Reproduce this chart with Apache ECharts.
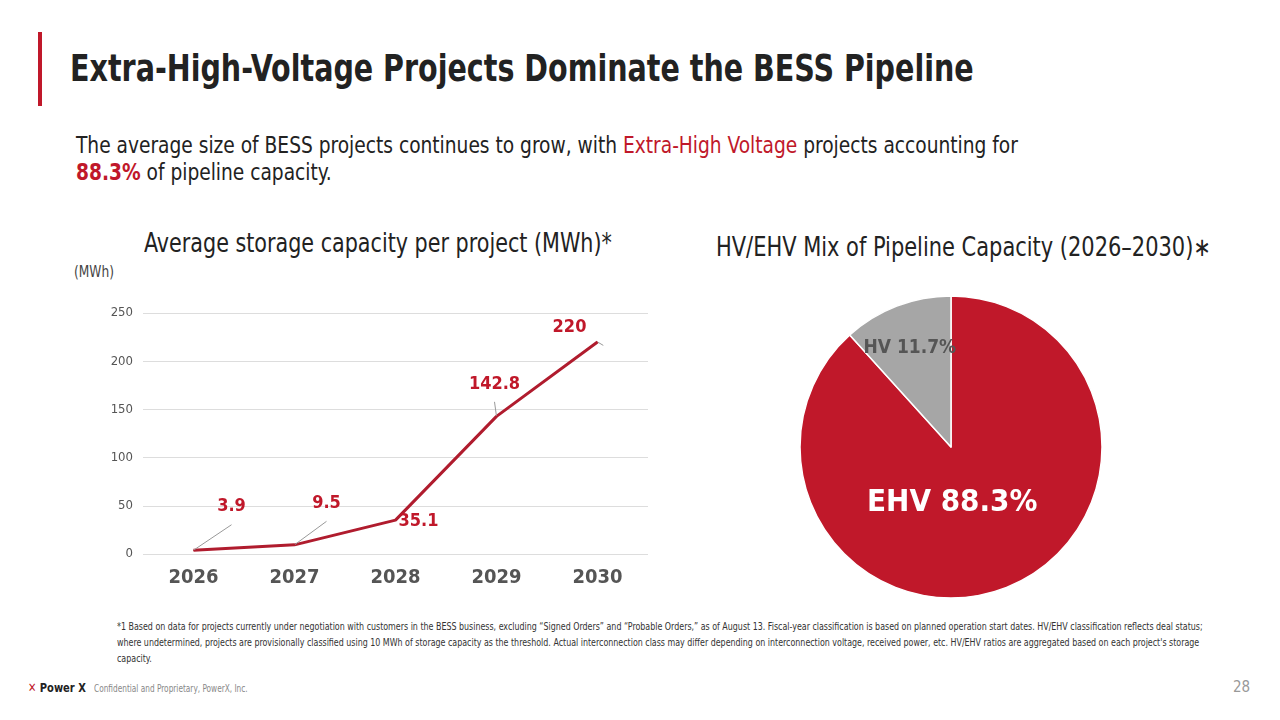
<!DOCTYPE html>
<html><head><meta charset="utf-8">
<script src="https://cdn.jsdelivr.net/npm/echarts@6/dist/echarts.min.js"></script>
<style>
body{margin:0;width:1280px;height:720px;background:#fff;font-family:"DejaVu Sans Condensed","Liberation Sans Narrow",sans-serif;position:relative;overflow:hidden;color:#222}
.abs{position:absolute;white-space:nowrap;transform-origin:0 0}
#line{position:absolute;left:60px;top:290px;width:600px;height:310px}
#pie{position:absolute;left:760px;top:280px;width:380px;height:330px}
</style></head><body>
<div class="abs" style="left:38px;top:32px;width:4px;height:74px;background:#c0182a"></div>
<div class="abs" style="left:70px;top:46px;font-size:38px;font-weight:bold;transform:scaleX(0.835)">Extra-High-Voltage Projects Dominate the BESS Pipeline</div>
<div class="abs" style="left:76px;top:132px;font-size:23px;line-height:27px;transform:scaleX(0.9)">The average size of BESS projects continues to grow, with <span style="color:#c0182a">Extra-High Voltage</span> projects accounting for<br><b style="color:#c0182a">88.3%</b> of pipeline capacity.</div>
<div class="abs" style="left:144px;top:228px;font-size:26px;transform:scaleX(0.885)">Average storage capacity per project (MWh)*</div>
<div class="abs" style="left:74px;top:262px;font-size:16px;color:#444;transform:scaleX(0.85)">(MWh)</div>
<div class="abs" style="left:716px;top:232px;font-size:26px;transform:scaleX(0.896)">HV/EHV Mix of Pipeline Capacity (2026–2030)∗</div>
<div class="abs" style="left:117px;top:618px;font-size:10.5px;line-height:16px;color:#333;white-space:normal;width:1300px;transform:scaleX(0.84)">*1 Based on data for projects currently under negotiation with customers in the BESS business, excluding “Signed Orders” and “Probable Orders,” as of August 13. Fiscal-year classification is based on planned operation start dates. HV/EHV classification reflects deal status; where undetermined, projects are provisionally classified using 10 MWh of storage capacity as the threshold. Actual interconnection class may differ depending on interconnection voltage, received power, etc. HV/EHV ratios are aggregated based on each project's storage capacity.</div>
<div class="abs" style="left:28px;top:680px;font-size:13px;font-weight:bold;transform:scaleX(0.85)"><span style="color:#c0182a">✕</span> Power X</div>
<div class="abs" style="left:94px;top:683px;font-size:10px;color:#888;transform:scaleX(0.82)">Confidential and Proprietary, PowerX, Inc.</div>
<div class="abs" style="left:1233px;top:678px;font-size:15px;color:#999">28</div>
<div id="line"></div><div id="pie"></div>
<script>
const years = ['2026', '2027', '2028', '2029', '2030'];
const avgMWh = [3.9, 9.5, 35.1, 142.8, 220];
const yTicks = [0, 50, 100, 150, 200, 250];
const mixNames = ['EHV', 'HV'];
const mixShare = [88.3, 11.7];

const font = '"DejaVu Sans Condensed","Liberation Sans Narrow",sans-serif';
const red = '#c0182a';
// label offsets per point (keeps leader lines like the slide)
const offs = [[38, -29], [32, -27], [23, 16], [-2, -18], [-28, 0]];
const leader = [true, true, false, true, true];

const line = echarts.init(document.getElementById('line'));
line.setOption({
  textStyle: { fontFamily: font },
  grid: { left: 83, width: 505, top: 23, height: 241 },
  xAxis: {
    type: 'category', data: years,
    axisLine: { show: false }, axisTick: { show: false },
    axisLabel: { fontSize: 20, fontWeight: 'bold', color: '#555', margin: 14 }
  },
  yAxis: {
    type: 'value', min: yTicks[0], max: yTicks[yTicks.length - 1], interval: 50,
    axisLabel: { fontSize: 13, color: '#555', margin: 10 },
    splitLine: { lineStyle: { color: '#ddd' } }
  },
  series: [{
    type: 'line', data: avgMWh.map((v, i) => ({
      value: v,
      label: { offset: offs[i] },
      labelLine: { show: leader[i] }
    })),
    symbol: 'circle', symbolSize: 1, showSymbol: true, showAllSymbol: true,
    itemStyle: { color: '#b01c2e' },
    lineStyle: { color: '#b01c2e', width: 3 },
    label: { show: true, position: 'top', color: red, fontSize: 18, fontWeight: 'bold' },
    labelLine: { show: true, lineStyle: { color: '#999', width: 1 } },
    animation: false
  }]
});

const pie = echarts.init(document.getElementById('pie'));
pie.setOption({
  textStyle: { fontFamily: font },
  series: [{
    type: 'pie', center: [191, 167], radius: 151, startAngle: 90, clockwise: true,
    color: [red, '#a6a6a6'],
    itemStyle: { borderColor: '#fff', borderWidth: 1.5 },
    label: {
      show: true, position: 'inside', fontWeight: 'bold',
      formatter: p => p.name + ' ' + p.value + '%'
    },
    labelLine: { show: false },
    emphasis: { disabled: true },
    animation: false,
    data: [
      { name: mixNames[0], value: mixShare[0], label: { color: '#fff', fontSize: 31, offset: [-27, -17] } },
      { name: mixNames[1], value: mixShare[1], label: { color: '#555', fontSize: 19, offset: [-13, -26] } }
    ]
  }]
});
</script>
</body></html>
